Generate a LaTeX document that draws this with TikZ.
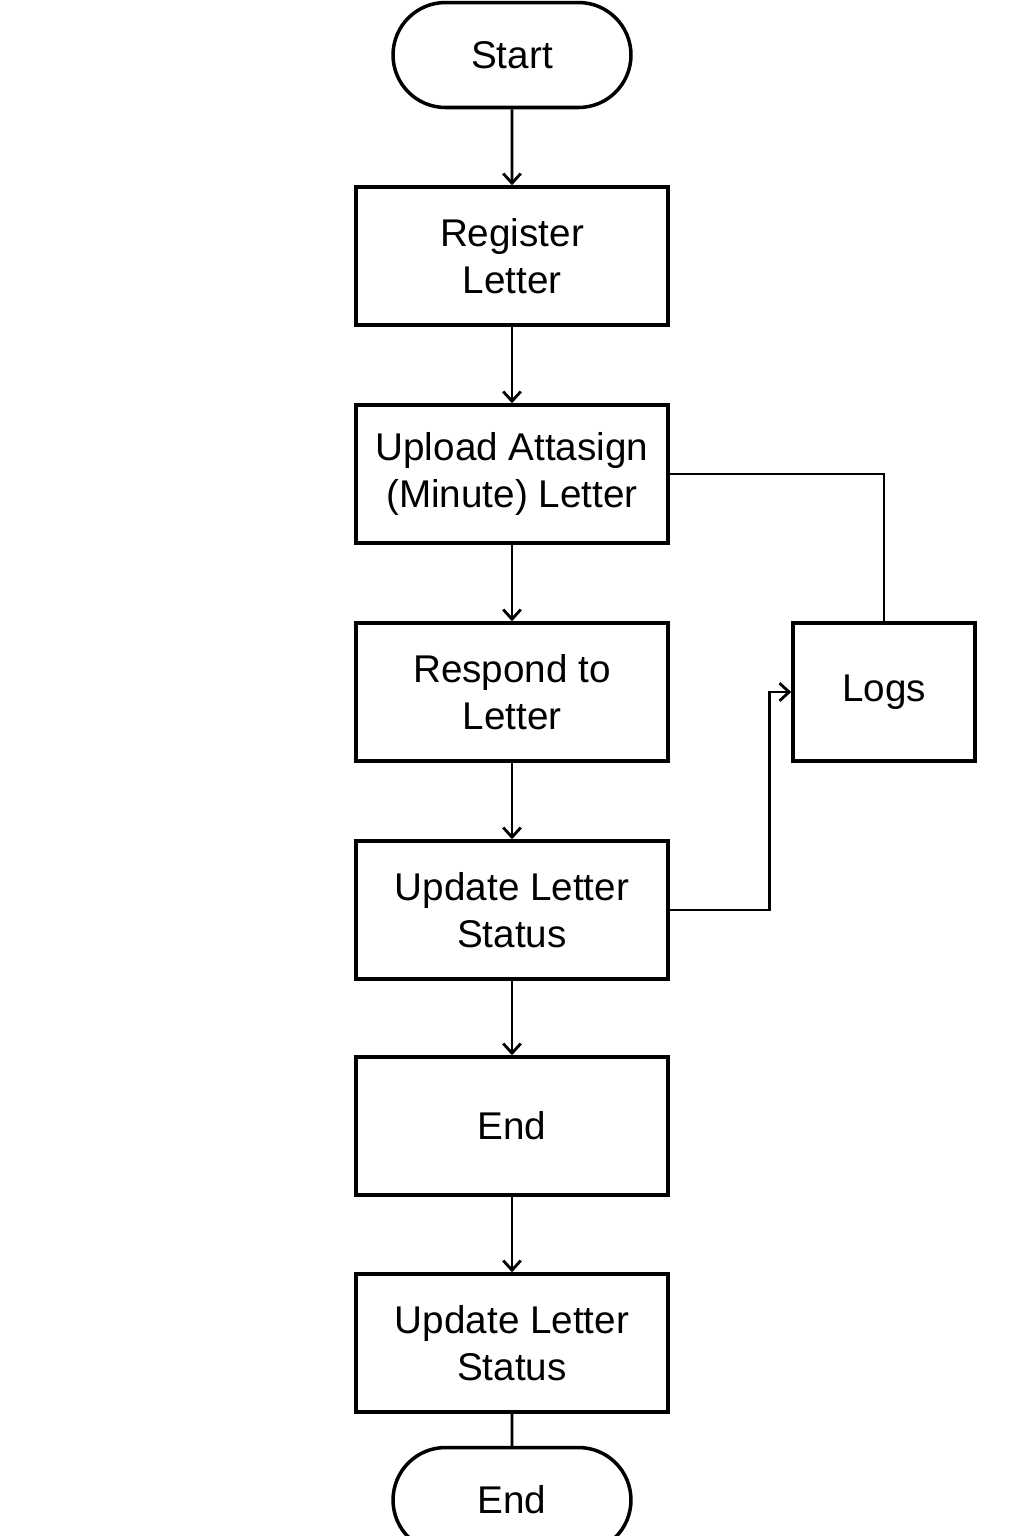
\documentclass[tikz,border=0pt]{standalone}
\usepackage{fontspec}
\setmainfont{Liberation Sans}
\usetikzlibrary{shapes.misc,arrows.meta}
\tikzset{
  stepbox/.style={draw, line width=2pt, minimum width=6.24cm, minimum height=2.76cm,
    inner sep=0pt, align=center, font=\fontsize{22}{27}\selectfont},
  terminal/.style={draw, rounded rectangle, line width=2pt, minimum width=4.76cm,
    minimum height=2.1cm, inner sep=0pt, font=\fontsize{22}{27}\selectfont},
  flow/.style={line width=1.6pt, -{Straight Barb[length=5.5pt,width=10pt,line width=1.6pt]}},
  link/.style={line width=1.6pt},
}
\begin{document}
\begin{tikzpicture}[x=0.02cm,y=-0.02cm]
	\useasboundingbox (0,0) rectangle (1024,1536);
	\node[terminal] (start) at (512,55) {Start};
	\node[stepbox] (reg) at (512,256) {Register\\Letter};
	\node[stepbox] (upload) at (512,474) {Upload Attasign\\(Minute) Letter};
	\node[stepbox] (respond) at (512,692) {Respond to\\Letter};
	\node[stepbox] (status) at (512,910) {Update Letter\\Status};
	\node[stepbox] (endbox) at (512,1126) {End};
	\node[stepbox] (status2) at (512,1343) {Update Letter\\Status};
	\node[terminal] (stop) at (512,1500) {End};
	\node[stepbox, minimum width=3.64cm] (logs) at (884,692) {Logs};
	
	\draw[flow] (start) -- (reg);
	\draw[flow] (reg) -- (upload);
	\draw[flow] (upload) -- (respond);
	\draw[flow] (respond) -- (status);
	\draw[flow] (status) -- (endbox);
	\draw[flow] (endbox) -- (status2);
	\draw[link] (status2) -- (stop);
	
	\draw[link] (upload.east) -| (logs.north);
	\draw[flow] (status.east) -- ++(100,0) |- (logs.west);
\end{tikzpicture}
\end{document}
